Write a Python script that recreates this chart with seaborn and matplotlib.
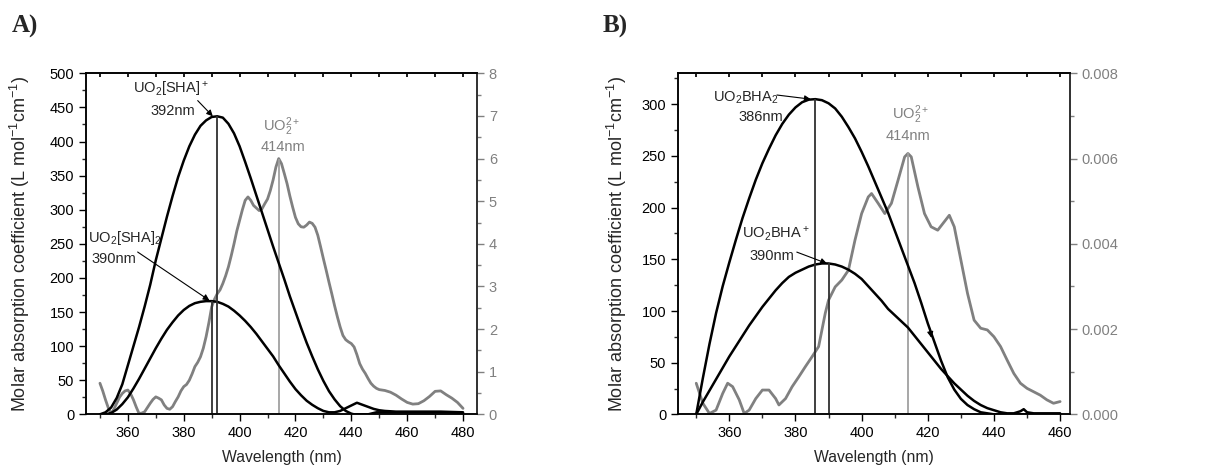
import numpy as np
import pandas as pd
import seaborn as sns
import matplotlib.pyplot as plt
from matplotlib.ticker import MultipleLocator, FormatStrFormatter

# ---------------- panel A data (SHA) ----------------
wl_sha_cat = [350, 352, 354, 356, 358, 360, 362, 364, 366, 368, 370, 372, 374, 376, 378, 380,
              382, 384, 386, 388, 390, 392, 394, 396, 398, 400, 402, 404, 406, 408, 410, 412,
              414, 416, 418, 420, 422, 424, 426, 428, 430, 432, 434, 436, 438, 440, 441]
abs_sha_cat = [0, 3, 10, 24, 44, 72, 100, 128, 158, 190, 226, 258, 290, 320, 348, 372,
               393, 410, 423, 431, 436, 437, 435, 426, 412, 393, 370, 346, 321, 296, 271, 246,
               222, 198, 173, 150, 127, 105, 85, 66, 49, 34, 22, 12, 5, 1, 0]
wl_sha_tail = [441, 446, 449, 455, 465, 475, 480]
abs_sha_tail = [0, 0, 3, 3, 3, 3, 2]

wl_sha2 = [352, 354, 356, 358, 360, 362, 364, 366, 368, 370, 372, 374, 376, 378, 380, 382,
           384, 386, 388, 390, 392, 394, 396, 398, 400, 402, 404, 406, 408, 410, 412, 414,
           416, 418, 420, 422, 424, 426, 428, 430, 432, 434, 436, 438, 440, 442, 444, 446,
           448, 450, 452, 456, 464, 472, 480]
abs_sha2 = [0, 2, 7, 15, 25, 38, 52, 67, 82, 97, 111, 124, 135, 145, 153, 159,
            163, 165, 166, 166, 165, 162, 158, 152, 145, 137, 128, 118, 107, 96, 85, 72,
            60, 48, 37, 28, 20, 14, 9, 5, 3, 3, 5, 9, 13, 17, 14, 11,
            8, 6, 5, 4, 4, 4, 3]

wl_uo2_a = [350, 351, 352, 353, 354, 355, 356, 357, 358, 359, 360, 361, 362, 363, 364, 365,
            366, 367, 368, 369, 370, 371, 372, 373, 374, 375, 376, 377, 378, 379, 380, 381,
            382, 383, 384, 385, 386, 387, 388, 389, 390, 391, 392, 393, 394, 395, 396, 397,
            398, 399, 400, 401, 402, 403, 404, 405, 406, 407, 408, 409, 410, 411, 412, 413,
            414, 415, 416, 417, 418, 419, 420, 421, 422, 423, 424, 425, 426, 427, 428, 429,
            430, 431, 432, 433, 434, 435, 436, 437, 438, 439, 440, 441, 442, 443, 444, 445,
            446, 447, 448, 449, 450, 452, 454, 456, 458, 460, 462, 464, 466, 468, 470, 472,
            474, 476, 478, 480]
abs_uo2_a = [0.73, 0.55, 0.34, 0.15, 0.02, 0.12, 0.26, 0.40, 0.49, 0.55, 0.57, 0.48, 0.34, 0.17, 0.02, 0.03,
             0.06, 0.16, 0.26, 0.35, 0.41, 0.38, 0.34, 0.22, 0.14, 0.12, 0.18, 0.30, 0.41, 0.55, 0.65, 0.70,
             0.80, 0.95, 1.12, 1.22, 1.35, 1.55, 1.82, 2.15, 2.52, 2.70, 2.83, 2.92, 3.07, 3.25, 3.46, 3.72,
             4.00, 4.30, 4.55, 4.80, 5.02, 5.10, 5.02, 4.90, 4.84, 4.78, 4.82, 4.94, 5.05, 5.25, 5.50, 5.80,
             6.00, 5.88, 5.65, 5.41, 5.12, 4.86, 4.62, 4.47, 4.40, 4.39, 4.44, 4.51, 4.48, 4.39, 4.20, 3.93,
             3.65, 3.38, 3.10, 2.83, 2.55, 2.29, 2.05, 1.85, 1.75, 1.70, 1.66, 1.58, 1.40, 1.19, 1.06, 0.96,
             0.84, 0.73, 0.66, 0.61, 0.58, 0.56, 0.52, 0.45, 0.36, 0.28, 0.24, 0.25, 0.32, 0.42, 0.54, 0.55,
             0.46, 0.38, 0.28, 0.14]

# ---------------- panel B data (BHA) ----------------
wl_bha = [350, 352, 354, 356, 358, 360, 362, 364, 366, 368, 370, 372, 374, 376, 378, 380,
          382, 384, 386, 388, 390, 392, 394, 396, 398, 400, 402, 404, 406, 408, 410, 412,
          414, 416, 418, 420, 422, 424, 426, 428, 430, 432, 434, 436, 438, 440, 450, 460]
abs_bha2 = [0, 35, 68, 98, 124, 147, 169, 190, 209, 227, 243, 257, 270, 281, 290, 297,
            302, 304.5, 305, 304, 301, 296, 288, 278, 267, 254, 240, 225, 210, 195, 178, 161,
            144, 127, 108, 88, 70, 52, 36, 24, 15, 9, 5, 2, 1, 0, 0, 0]

wl_bha1 = [350, 352, 354, 356, 358, 360, 362, 364, 366, 368, 370, 372, 374, 376, 378, 380,
           382, 384, 386, 388, 390, 392, 394, 396, 398, 400, 402, 404, 406, 408, 410, 412,
           414, 416, 418, 420, 422, 424, 426, 428, 430, 432, 434, 436, 438, 440, 442, 444,
           446, 448, 449, 450, 452, 456, 460]
abs_bha1 = [0, 12, 23, 34, 45, 56, 66, 76, 86, 95, 104, 112, 120, 127, 133, 137,
            140, 143, 145, 146, 146, 145, 143, 140, 136, 131, 124, 117, 110, 102, 96, 90,
            84, 76, 68, 60, 52, 44, 37, 30, 24, 18, 13, 9, 6, 4, 2, 1,
            1, 3, 5, 2, 1, 1, 1]

wl_uo2_b = [350, 352, 354, 356, 358, 359.5, 361, 363, 364.5, 366, 368, 370, 372, 374, 375, 377,
            379, 381, 383, 385, 387, 388, 389, 390, 392, 394, 396, 398, 400, 402, 403, 405,
            407, 409, 411, 413, 414, 415, 417, 419, 421, 423, 425, 426.5, 428, 430, 432, 434,
            436, 438, 440, 442, 444, 446, 448, 450, 452, 454, 456, 458, 460]
abs_uo2_b = [0.00073, 0.00026, 0.00002, 0.00010, 0.00049, 0.00073, 0.00065, 0.00034, 0.00002, 0.00010,
             0.00037, 0.00057, 0.00057, 0.00037, 0.00022, 0.00037, 0.00065, 0.00088, 0.00112, 0.00135,
             0.00159, 0.00198, 0.00237, 0.00268, 0.00299, 0.00315, 0.00338, 0.00409, 0.00471, 0.00510,
             0.00518, 0.00495, 0.00471, 0.00495, 0.00549, 0.00604, 0.00612, 0.00604, 0.00534, 0.00471,
             0.00440, 0.00432, 0.00452, 0.00467, 0.00440, 0.00362, 0.00284, 0.00221, 0.00202, 0.00198,
             0.00182, 0.00159, 0.00127, 0.00096, 0.00073, 0.00061, 0.00053, 0.00045, 0.00034, 0.00026,
             0.00030]

GRAY = '#808080'
LGRAY = '#a0a0a0'
FS_TICK = 10.5
FS_NOTE = 10.5

sns.set_theme(style='ticks')
plt.rcParams['font.family'] = ['Liberation Sans', 'DejaVu Sans']
plt.rcParams['mathtext.default'] = 'regular'

fig = plt.figure(figsize=(12.11, 4.73), dpi=100)
axA = fig.add_axes([0.0710, 0.124, 0.3229, 0.721])
axB = fig.add_axes([0.5599, 0.124, 0.3237, 0.721])


def style_axes(ax, ax2, xlim, ylim, ylim2, ymaj, ymin, y2maj, y2min, ylab_x):
    ax.set_xlim(*xlim)
    ax.set_ylim(*ylim)
    ax2.set_ylim(*ylim2)
    ax.xaxis.set_major_locator(MultipleLocator(20))
    ax.xaxis.set_minor_locator(MultipleLocator(10))
    ax.yaxis.set_major_locator(MultipleLocator(ymaj))
    ax.yaxis.set_minor_locator(MultipleLocator(ymin))
    ax2.yaxis.set_major_locator(MultipleLocator(y2maj))
    ax2.yaxis.set_minor_locator(MultipleLocator(y2min))
    ax.tick_params(which='major', direction='out', length=5, width=1, labelsize=FS_TICK,
                   colors='black')
    ax.tick_params(which='minor', direction='out', length=3, width=1)
    ax2.tick_params(which='major', direction='out', length=5, width=1, labelsize=FS_TICK,
                    colors=GRAY)
    ax2.tick_params(which='minor', direction='out', length=3, width=1, colors=GRAY)
    for s in ['left', 'bottom', 'top']:
        ax.spines[s].set_color('black')
        ax.spines[s].set_linewidth(1.1)
    ax2.spines['right'].set_color(GRAY)
    ax2.spines['right'].set_linewidth(1.1)
    ax.set_xlabel('Wavelength (nm)', fontsize=11.3)
    ax.xaxis.set_label_coords(0.5, -0.105)
    ax.set_ylabel('Molar absorption coefficient (L mol$^{-1}$cm$^{-1}$)', fontsize=13)
    ax.yaxis.set_label_coords(ylab_x, 0.5)
    top = ax.secondary_xaxis('top')
    top.xaxis.set_major_locator(MultipleLocator(10))
    top.tick_params(direction='in', length=3, labeltop=False, color='black')
    ax2.set_ylabel('')
    ax.set_zorder(ax2.get_zorder() + 1)
    ax.patch.set_visible(False)


def arrow(ax, tail, head):
    ax.annotate('', xy=head, xytext=tail,
                arrowprops=dict(arrowstyle='-|>', color='black', lw=0.8,
                                mutation_scale=9, shrinkA=0, shrinkB=0))


# ---------------- panel A ----------------
axA2 = axA.twinx()
sns.lineplot(x=wl_uo2_a, y=abs_uo2_a, ax=axA2, color=GRAY, linewidth=2.0,
             estimator=None, sort=False)
sns.lineplot(x=wl_sha_cat, y=abs_sha_cat, ax=axA, color='black', linewidth=1.8,
             estimator=None, sort=False)
sns.lineplot(x=wl_sha_tail, y=abs_sha_tail, ax=axA, color='black', linewidth=1.8,
             estimator=None, sort=False)
sns.lineplot(x=wl_sha2, y=abs_sha2, ax=axA, color='black', linewidth=1.8,
             estimator=None, sort=False)
style_axes(axA, axA2, (345, 485), (0, 500), (0, 8), 50, 25, 1, 0.5, -0.138)

axA.vlines([390, 392], 0, [max(abs_sha2), max(abs_sha_cat)], color='#303030', lw=1.3)
axA2.vlines(414, 0, max(abs_uo2_a), color=LGRAY, lw=1.3)

axA.text(375.4, 477, 'UO$_2$[SHA]$^+$', ha='center', va='center', fontsize=FS_NOTE)
axA.text(376, 445, '392nm', ha='center', va='center', fontsize=FS_NOTE)
arrow(axA, (385, 460), (390.4, 437))
axA.text(358.8, 258, 'UO$_2$[SHA]$_2$', ha='center', va='center', fontsize=FS_NOTE)
axA.text(355, 228, '390nm', ha='center', va='center', fontsize=FS_NOTE)
arrow(axA, (363.5, 238), (389.2, 167))
axA.text(414.9, 421, 'UO$_2^{2+}$', ha='center', va='center', fontsize=FS_NOTE, color=GRAY)
axA.text(415.5, 392, '414nm', ha='center', va='center', fontsize=FS_NOTE, color=GRAY)

# ---------------- panel B ----------------
axB2 = axB.twinx()
sns.lineplot(x=wl_uo2_b, y=abs_uo2_b, ax=axB2, color=GRAY, linewidth=2.0,
             estimator=None, sort=False)
sns.lineplot(x=wl_bha, y=abs_bha2, ax=axB, color='black', linewidth=1.8,
             estimator=None, sort=False)
sns.lineplot(x=wl_bha1, y=abs_bha1, ax=axB, color='black', linewidth=1.8,
             estimator=None, sort=False)
style_axes(axB, axB2, (344.5, 463), (0, 330), (0, 0.008), 50, 25, 0.002, 0.001, -0.125)
axB2.yaxis.set_major_formatter(FormatStrFormatter('%.3f'))

axB.vlines([386, 390], 0, [max(abs_bha2), max(abs_bha1)], color='#303030', lw=1.3)
axB2.vlines(414, 0, max(abs_uo2_b), color=LGRAY, lw=1.3)

axB.text(365, 306, 'UO$_2$BHA$_2$', ha='center', va='center', fontsize=FS_NOTE)
axB.text(369.6, 288, '386nm', ha='center', va='center', fontsize=FS_NOTE)
arrow(axB, (374.4, 309), (384.6, 305))
axB.text(374.1, 175, 'UO$_2$BHA$^+$', ha='center', va='center', fontsize=FS_NOTE)
axB.text(372.9, 153, '390nm', ha='center', va='center', fontsize=FS_NOTE)
arrow(axB, (380.4, 157), (389.5, 146))
axB.text(414.8, 290, 'UO$_2^{2+}$', ha='center', va='center', fontsize=FS_NOTE, color=GRAY)
axB.text(414, 269, '414nm', ha='center', va='center', fontsize=FS_NOTE, color=GRAY)
arrow(axB, (420.5, 84), (421.1, 74))

fig.text(0.010, 0.945, 'A)', fontsize=18, fontweight='bold', family='Liberation Serif',
         va='center', ha='left')
fig.text(0.498, 0.945, 'B)', fontsize=18, fontweight='bold', family='Liberation Serif',
         va='center', ha='left')

fig.savefig('out.png', dpi=100)
